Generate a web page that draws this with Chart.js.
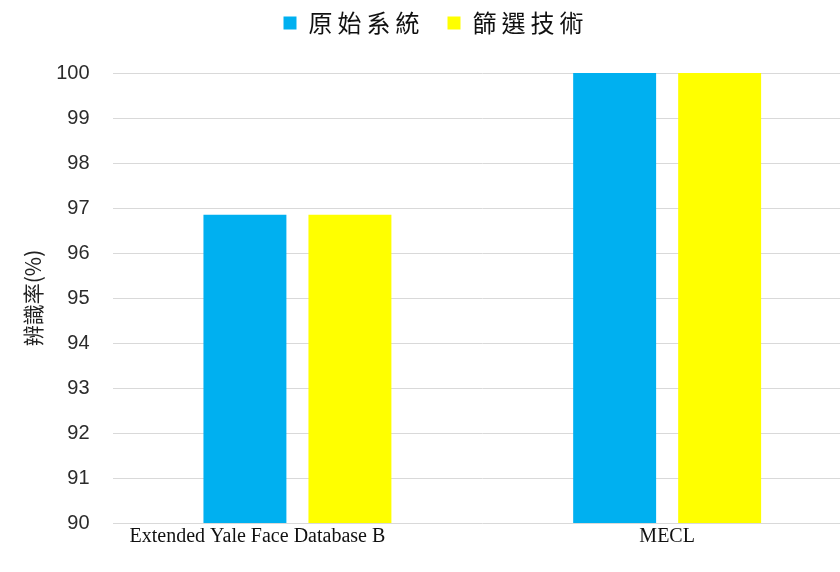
<!DOCTYPE html>
<html>
<head>
<meta charset="utf-8">
<script src="https://cdn.jsdelivr.net/npm/chart.js@4"></script>
<style>
  html, body { margin: 0; padding: 0; background: #fff; overflow: hidden; }
  #wrap { width: 860px; height: 572px; }
</style>
</head>
<body>
<div id="wrap"><canvas id="myChart" width="860" height="572"></canvas></div>
<script>
var categories = ["Extended Yale Face Database B", "MECL"];
var seriesNames = ["原始系統", "篩選技術"];
var originalRate = [96.85, 100];
var filteredRate = [96.85, 100];
var yTicks = [90, 91, 92, 93, 94, 95, 96, 97, 98, 99, 100];

var ctx = document.getElementById("myChart").getContext("2d");
var myChart = new Chart(ctx, {
    type: "bar",
    data: {
        labels: categories,
        datasets: [
            {
                label: seriesNames[0],
                data: originalRate,
                backgroundColor: "#00b0f0",
                categoryPercentage: 0.568,
                barPercentage: 0.79,
            },
            {
                label: seriesNames[1],
                data: filteredRate,
                backgroundColor: "#ffff00",
                categoryPercentage: 0.568,
                barPercentage: 0.79,
            },
        ],
    },
    options: {
        responsive: false,
        animation: false,
        layout: {
            padding: { left: 20, right: 8, top: -12, bottom: 29 },
        },
        plugins: {
            legend: {
                position: "top",
                labels: {
                    boxWidth: 13,
                    boxHeight: 13,
                    padding: 23,
                    color: "#111",
                    font: { family: "'Noto Sans CJK TC'", size: 24 },
                },
            },
            tooltip: { enabled: false },
        },
        scales: {
            x: {
                grid: { display: false },
                border: { display: false },
                ticks: {
                    color: "#111",
                    padding: -6,
                    font: { family: "'Liberation Serif'", size: 20 },
                    // the long first label sits a little left of its bars
                    callback: function (value, index) {
                        var label = this.getLabelForValue(value);
                        return index === 0 ? label + "\u2003\u2003\u2003\u2003" : label;
                    },
                },
            },
            y: {
                min: 90,
                max: 100,
                afterBuildTicks: function (axis) {
                    axis.ticks = yTicks.map(v => ({ value: v }));
                },
                grid: { color: "#d9d9d9", lineWidth: 1, drawTicks: false },
                border: { display: false },
                ticks: {
                    color: "#2b2b2b",
                    padding: 23,
                    font: { family: "'Liberation Sans'", size: 20 },
                },
                title: {
                    display: true,
                    text: "辨識率(%)",
                    color: "#222",
                    padding: { top: 0, bottom: -12 },
                    font: { family: "'Noto Sans CJK TC'", size: 21 },
                },
            },
        },
    },
});

// spaced-out legend text, plus extra room below the legend
var legend = myChart.legend;
var legendFit = legend.fit;
var legendDraw = legend.draw;
legend.fit = function () {
    this.ctx.save();
    this.ctx.letterSpacing = "5px";
    legendFit.call(this);
    this.ctx.restore();
    this.height += 28;
};
legend.draw = function () {
    this.ctx.save();
    this.ctx.letterSpacing = "5px";
    legendDraw.call(this);
    this.ctx.restore();
};
myChart.update();
</script>
</body>
</html>
